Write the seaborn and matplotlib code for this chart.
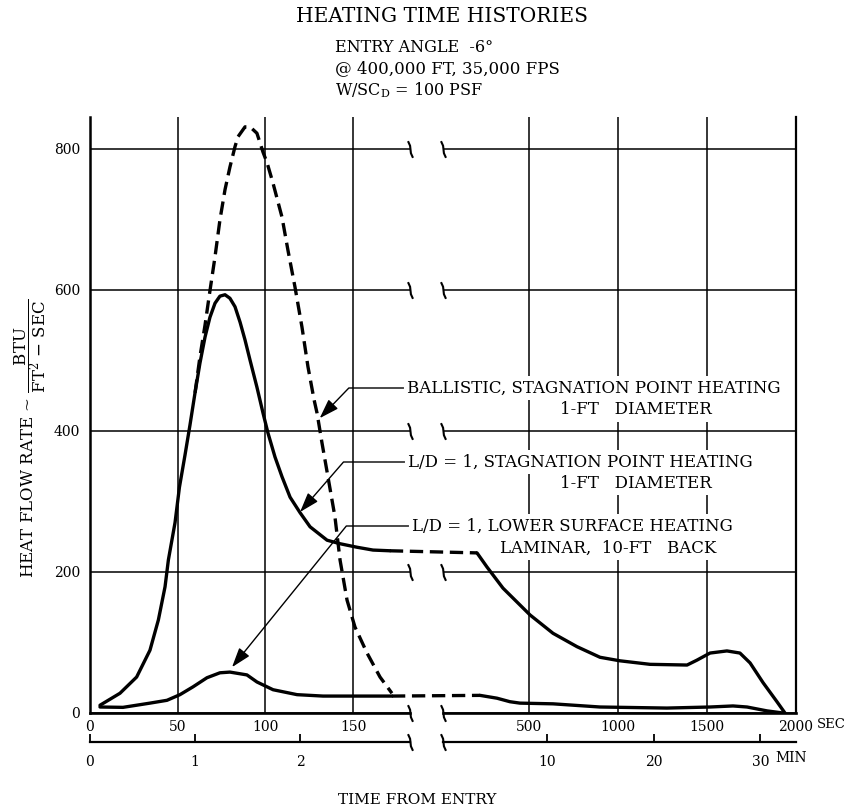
import matplotlib
matplotlib.use("Agg")
import matplotlib.pyplot as plt
import seaborn as sns
import numpy as np
from matplotlib.path import Path

# ---------------- data ----------------
# Early part of the flight (seconds, left half of the broken axis)
ld_stag_early_t = [5.7, 17.1, 26.6, 34.2, 39.0, 42.8, 44.7, 48.5, 51.0, 54.2, 57.0, 59.9,
                   62.7, 65.6, 68.4, 71.3, 74.1, 77.0, 79.8, 82.7, 85.6, 88.4, 91.3, 95.2,
                   98.7, 101.5, 105.5, 109.5, 114.1, 119.8, 125.5, 135.2, 142.6, 152.3,
                   161.4, 171.0]
ld_stag_early_q = [11, 28, 51, 89, 132, 179, 217, 270, 320, 366, 408, 454,
                   496, 533, 561, 581, 591, 593, 588, 576, 554, 529, 500, 462,
                   425, 397, 363, 335, 306, 284, 264, 245, 240, 235,
                   231, 230]

lower_early_t = [5.7, 18.8, 34.2, 43.9, 51.3, 58.7, 66.7, 74.1, 79.8, 89.5, 95.2, 104.4,
                 118.1, 132.9, 152.3, 172.2]
lower_early_q = [8.5, 8, 14, 18, 26, 37, 50, 57, 58, 54, 44, 33, 26, 24, 24, 24]

ballistic_t = [59.9, 62.7, 65.6, 67.9, 71.3, 74.1, 77.0, 79.8, 82.7, 84.4, 88.4, 91.3,
               95.2, 98.7, 101.0, 104.4, 109.5, 112.9, 116.9, 120.9, 124.3, 127.8, 129.5,
               132.3, 135.7, 139.7, 142.6, 146.6, 151.1, 158.0, 165.4, 172.2]
ballistic_q = [454, 505, 550, 590, 647, 699, 742, 774, 803, 817, 831, 831,
               822, 795, 780, 751, 703, 656, 604, 547, 491, 444, 425,
               383, 335, 278, 217, 160, 122, 85, 51, 28]

# Late part of the flight (seconds, right half of the broken axis)
ld_stag_late_t = [208, 264, 354, 506, 635, 770, 899, 1011, 1180, 1388, 1444, 1517,
                  1612, 1685, 1742, 1815, 1893, 1938]
ld_stag_late_q = [227, 207, 177, 139, 113, 94, 79, 74, 69, 68, 75, 85,
                  88, 85, 71, 43, 16, 0]

lower_late_t = [225, 320, 393, 449, 635, 899, 1275, 1517, 1646, 1725, 1837, 1927]
lower_late_q = [25, 21, 16, 14, 13, 8.5, 7, 8.5, 10, 8.5, 3, 0]

# axes ticks / labels
y_ticks = [0, 200, 400, 600, 800]
sec_ticks_early = [0, 50, 100, 150]
sec_ticks_late = [500, 1000, 1500, 2000]
min_ticks_early = [0, 1, 2]
min_ticks_late = [10, 20, 30]

# annotation targets (time, heat rate) on the curves
ballistic_tip = (131, 418)
ld_stag_tip = (119.8, 285)
lower_tip = (81, 65)

# ---------------- style ----------------
sns.set_style("white")
plt.rcParams.update({
    "font.family": ["DejaVu Serif"],
    "mathtext.fontset": "dejavuserif",
    "text.color": "black",
    "axes.edgecolor": "black",
    "xtick.color": "black",
    "ytick.color": "black",
    "axes.labelcolor": "black",
})

W, H = 851, 811
fig = plt.figure(figsize=(W / 100, H / 100), dpi=100)


def fx(px):
    return px / W


def fy(py):
    return 1 - py / H


bottom, top = fy(713), fy(117)
ax1 = fig.add_axes([fx(90), bottom, fx(410) - fx(90), top - bottom])
ax2 = fig.add_axes([fx(443), bottom, fx(796) - fx(443), top - bottom], sharey=ax1)
for ax in (ax1, ax2):
    ax.set_facecolor("none")

LW = 2.4
DASH = (0, (4, 2))

# ---------------- curves ----------------
sns.lineplot(x=ld_stag_early_t, y=ld_stag_early_q, ax=ax1, color="black", lw=LW,
             sort=False, estimator=None)
sns.lineplot(x=lower_early_t, y=lower_early_q, ax=ax1, color="black", lw=LW,
             sort=False, estimator=None)
sns.lineplot(x=ballistic_t, y=ballistic_q, ax=ax1, color="black", lw=LW,
             linestyle=DASH, sort=False, estimator=None)
sns.lineplot(x=ld_stag_late_t, y=ld_stag_late_q, ax=ax2, color="black", lw=LW,
             sort=False, estimator=None)
sns.lineplot(x=lower_late_t, y=lower_late_q, ax=ax2, color="black", lw=LW,
             sort=False, estimator=None)

# ---------------- axes ----------------
ax1.set_xlim(0, 182.5)
ax2.set_xlim(17, 2000)
ax1.set_ylim(0, 845)

for ax in (ax1, ax2):
    ax.set_xlabel("")
    ax.set_ylabel("")
    ax.grid(True, color="black", lw=1.1)
    ax.tick_params(length=0, labelsize=10)
    ax.spines["top"].set_visible(False)
    ax.spines["bottom"].set_linewidth(1.9)
    ax.set_yticks(y_ticks)

ax1.spines["right"].set_visible(False)
ax1.spines["left"].set_linewidth(1.8)
ax2.spines["left"].set_visible(False)
ax2.spines["right"].set_linewidth(1.6)

ax1.set_xticks(sec_ticks_early)
ax1.set_xticklabels([str(v) for v in sec_ticks_early])
ax2.set_xticks(sec_ticks_late)
ax2.set_xticklabels([str(v) for v in sec_ticks_late])
ax1.set_yticklabels([str(v) for v in y_ticks])
ax1.tick_params(axis="y", pad=7)
ax1.tick_params(axis="x", pad=5)
ax2.tick_params(axis="x", pad=5)
ax2.tick_params(axis="y", labelleft=False)

# minutes scale under the seconds scale
MIN_LOC = -29 / 596
for ax, ticks in ((ax1, min_ticks_early), (ax2, min_ticks_late)):
    sec = ax.secondary_xaxis(MIN_LOC, functions=(lambda s: s / 60.0, lambda m: m * 60.0))
    sec.set_xticks(ticks)
    sec.set_xticklabels([str(v) for v in ticks])
    sec.tick_params(direction="in", length=6, width=1.3, pad=9, labelsize=10)
    sec.spines["bottom"].set_linewidth(1.6)

# break symbols
brk = Path([(-0.3, 1.0), (-0.05, 0.45), (0.05, -0.45), (0.3, -1.0)])
mk = dict(marker=brk, ls="none", color="black", markersize=12, mew=1.5,
          markerfacecolor="none", clip_on=False, zorder=5)
ax1.plot([ax1.get_xlim()[1]] * len(y_ticks), y_ticks, **mk)
ax2.plot([ax2.get_xlim()[0]] * len(y_ticks), y_ticks, **mk)
ax1.plot([ax1.get_xlim()[1]], [MIN_LOC], transform=ax1.get_xaxis_transform(), **mk)
ax2.plot([ax2.get_xlim()[0]], [MIN_LOC], transform=ax2.get_xaxis_transform(), **mk)

# dashed bridges across the break: the late-side point is mapped into ax1 data space
to_ax1 = ax2.transData + ax1.transData.inverted()
for (ta, qa), (tb, qb) in (((ld_stag_early_t[-1], ld_stag_early_q[-1]),
                            (ld_stag_late_t[0], ld_stag_late_q[0])),
                           ((lower_early_t[-1], lower_early_q[-1]),
                            (lower_late_t[0], lower_late_q[0]))):
    tb1, qb1 = to_ax1.transform((tb, qb))
    ax1.plot([ta, tb1], [qa, qb1], color="black", lw=LW, linestyle=DASH,
             clip_on=False, zorder=4)

# ---------------- annotations ----------------
bbox = dict(boxstyle="square,pad=0.2", fc="white", ec="none")
afs = 12
arrow_kw = dict(arrowstyle="-|>,head_length=0.6,head_width=0.2", color="black",
                lw=1.0, shrinkA=0, shrinkB=0, mutation_scale=20)

ann = [
    ("BALLISTIC, STAGNATION POINT HEATING", (407, 388), ballistic_tip, 46),
    ("L/D = 1, STAGNATION POINT HEATING", (408, 462), ld_stag_tip, 49),
    ("L/D = 1, LOWER SURFACE HEATING", (412, 526), lower_tip, 51),
]
for text, (px, py), tip, angB in ann:
    ax2.annotate(text, xy=tip, xycoords=ax1.transData,
                 xytext=(px, H - py), textcoords="figure pixels",
                 ha="left", va="center", fontsize=afs, bbox=bbox,
                 annotation_clip=False, zorder=6,
                 arrowprops=dict(connectionstyle=f"angle,angleA=0,angleB={angB},rad=0",
                                 **arrow_kw))

second_lines = [("1-FT   DIAMETER", 560, 410), ("1-FT   DIAMETER", 560, 483),
                ("LAMINAR,  10-FT   BACK", 500, 548)]
for text, px, py in second_lines:
    fig.text(fx(px), fy(py), text, ha="left", va="center", fontsize=afs, bbox=bbox,
             zorder=6)

# ---------------- titles and axis labels ----------------
fig.text(fx(442), fy(16), "HEATING TIME HISTORIES", ha="center", va="center",
         fontsize=14.5)
fig.text(fx(335), fy(48), "ENTRY ANGLE  -6°", ha="left", va="center", fontsize=11.5)
fig.text(fx(335), fy(69), "@ 400,000 FT, 35,000 FPS", ha="left", va="center",
         fontsize=12)
fig.text(fx(335), fy(90), r"W/SC$_{\mathrm{D}}$ = 100 PSF", ha="left", va="center",
         fontsize=11.5)

fig.text(fx(30), fy(438),
         r"HEAT FLOW RATE ~ $\dfrac{\mathrm{BTU}}{\mathrm{FT}^{2}\ \mathrm{-\ SEC}}$",
         rotation=90, ha="center", va="center", fontsize=12)
fig.text(fx(417), fy(800), "TIME FROM ENTRY", ha="center", va="center", fontsize=11)
fig.text(fx(817), fy(725), "SEC", ha="left", va="center", fontsize=9.5)
fig.text(fx(775), fy(758), "MIN", ha="left", va="center", fontsize=10)

fig.savefig("out.png", dpi=100, facecolor="white")
